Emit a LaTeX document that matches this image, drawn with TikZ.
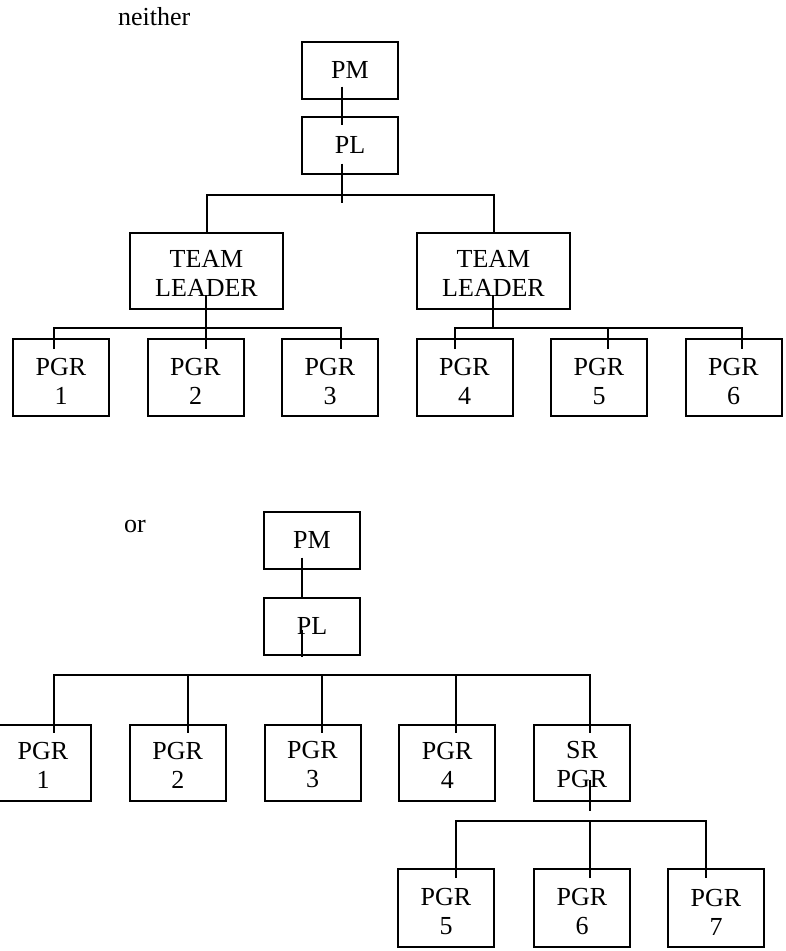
\documentclass[tikz,border=0pt]{standalone}
\usepackage{fontspec}
\setmainfont{Liberation Serif}
\usetikzlibrary{positioning,calc}
\newcommand{\boxlines}[3][25pt]{\rule{0pt}{#1}#2\\#3}
\tikzset{
  chartbox/.style={
    draw,
    rectangle,
    minimum width=96pt,
    minimum height=57pt,
    align=center,
    inner sep=0pt,
    outer sep=0pt,
    line width=2pt,
    font=\fontsize{26}{29}\selectfont
  },
  leadbox/.style={
    chartbox,
    minimum width=153pt,
    minimum height=76pt
  },
  pgrbox/.style={
    chartbox,
    minimum height=77pt
  },
  link/.style={line width=2pt},
  caption/.style={anchor=base west, inner sep=0pt, font=\fontsize{26}{29}\selectfont}
}

\begin{document}
\begin{tikzpicture}[x=1pt,y=-1pt,node distance=38pt]
  \useasboundingbox (0,0) rectangle (785,951);

  \node[caption] (neither) at (118,25) {neither};
  \node[chartbox] (pmA) at (350,70) {PM};
  \node[chartbox, below=18pt of pmA] (plA) {PL};
  \node[leadbox] (tlA) at (206.5,271) {\boxlines[22pt]{TEAM}{LEADER}};
  \node[leadbox, right=134pt of tlA] (tlB) {\boxlines[22pt]{TEAM}{LEADER}};

  \node[pgrbox] (p1) at (61,377.5) {\boxlines{PGR}{1}};
  \node[pgrbox, right=38.5pt of p1] (p2) {\boxlines{PGR}{2}};
  \node[pgrbox, right=38.5pt of p2] (p3) {\boxlines{PGR}{3}};
  \node[pgrbox, right=38.5pt of p3] (p4) {\boxlines{PGR}{4}};
  \node[pgrbox, right=38.5pt of p4] (p5) {\boxlines{PGR}{5}};
  \node[pgrbox, right=38.5pt of p5] (p6) {\boxlines{PGR}{6}};

  \draw[link] ([xshift=-8pt,yshift=12pt]pmA.south) -- ([xshift=-8pt,yshift=-8pt]plA.north);
  \draw[link] ([xshift=-8pt,yshift=10pt]plA.south) -- ([xshift=-8pt,yshift=-29pt]plA.south);
  \draw[link] (tlA.north) -- ++(0,38pt) -| (tlB.north);

  \draw[link] ([xshift=-1pt,yshift=14pt]tlA.south) -- ($(tlA.south |- p2.north)+(-1pt,-10pt)$);
  \draw[link] ([xshift=-7pt,yshift=-10pt]p1.north) |- ($(tlA.south)+(0,-19pt)$) -| ([xshift=11pt,yshift=-10pt]p3.north);
  \draw[link] ([xshift=-1pt,yshift=14pt]tlB.south) -- ++(0,-33pt);
  \draw[link] ([xshift=-9.5pt,yshift=-10pt]p4.north) |- ($(tlB.south)+(0,-19pt)$) -| ([xshift=8.5pt,yshift=-10pt]p6.north);
  \draw[link] ([xshift=9pt,yshift=-10pt]p5.north) -- ++(0,20pt);

  \node[caption] (or) at (124,532) {or};
  \node[chartbox] (pmB) at (312,540) {PM};
  \node[chartbox, below=29pt of pmB] (plB) {PL};

  \node[pgrbox, minimum height=76pt] (q1) at (43,762.5) {\boxlines[22pt]{PGR}{1}};
  \node[pgrbox, minimum height=76pt, right=38.75pt of q1] (q2) {\boxlines[22pt]{PGR}{2}};
  \node[pgrbox, minimum height=76pt, right=38.75pt of q2] (q3) {\boxlines[22pt]{PGR}{3}};
  \node[pgrbox, minimum height=76pt, right=38.75pt of q3] (q4) {\boxlines[22pt]{PGR}{4}};
  \node[pgrbox, minimum height=76pt, right=38.75pt of q4] (qsr) {\boxlines[22pt]{SR}{PGR}};

  \node[pgrbox, minimum height=78pt, below=68.5pt of qsr] (r6) {\boxlines{PGR}{6}};
  \node[pgrbox, minimum height=78pt, left=40pt of r6] (r5) {\boxlines{PGR}{5}};
  \node[pgrbox, minimum height=78pt, right=38pt of r6] (r7) {\boxlines{PGR}{7}};

  \draw[link] ([xshift=-10pt,yshift=11pt]pmB.south) -- ([xshift=-10pt]plB.north);
  \draw[link] ([xshift=-10pt,yshift=24.5pt]plB.south) -- ([xshift=-10pt,yshift=-2.5pt]plB.south);
  \draw[link] ([xshift=11pt,yshift=-8pt]q1.north) |- ($(plB.south)+(0,-20.5pt)$) -| ([xshift=8pt,yshift=-8pt]qsr.north);
  \draw[link] ([xshift=10.25pt,yshift=-8pt]q2.north) -- ++(0,57pt);
  \draw[link] ([xshift=9.5pt,yshift=-8pt]q3.north) -- ++(0,57pt);
  \draw[link] ([xshift=8.75pt,yshift=-8pt]q4.north) -- ++(0,57pt);

  \draw[link] ([xshift=8pt,yshift=20.5pt]qsr.south) -- ([xshift=8pt,yshift=-10.5pt]qsr.south);
  \draw[link] ([xshift=10pt,yshift=-9pt]r5.north) |- ($(qsr.south)+(0,-20.5pt)$) -| ([xshift=-10pt,yshift=-9pt]r7.north);
  \draw[link] ([xshift=8pt,yshift=-9pt]r6.north) -- ++(0,57pt);
\end{tikzpicture}
\end{document}
